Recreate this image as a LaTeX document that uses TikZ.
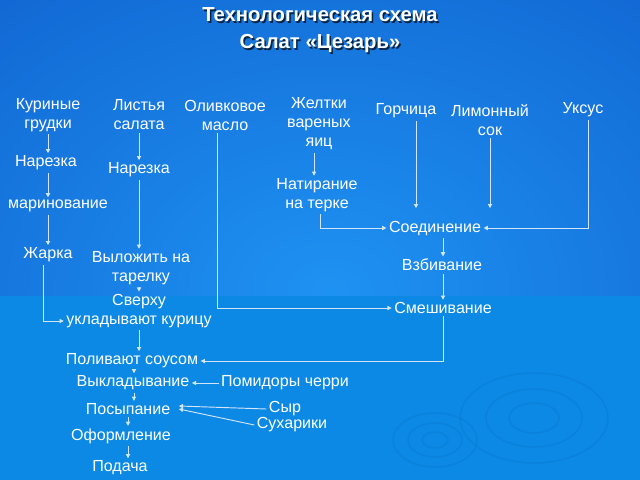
\documentclass[tikz,border=0pt]{standalone}
\usepackage{fontspec}
\setmainfont{Liberation Sans}
\usetikzlibrary{arrows.meta,calc}
\definecolor{topbase}{HTML}{0A4CC0}
\definecolor{topglow}{HTML}{1E92F2}
\definecolor{botc}{HTML}{0B89E4}
\definecolor{lncol}{HTML}{D2E6FA}
\definecolor{ripple}{HTML}{0A7AD4}
\tikzset{
  txt/.style={text=white, font=\fontsize{13.7}{16.2}\selectfont, inner sep=2pt, align=center},
  ttl/.style={font=\fontsize{17.3}{20}\selectfont\bfseries, inner sep=0pt},
  arr/.style={draw=lncol, line width=0.8pt, -{Triangle[length=3.6pt,width=3.6pt]}},
  rip/.style={draw=ripple, line width=1.3pt, opacity=0.5}
}
\begin{document}
\begin{tikzpicture}[x=0.03cm,y=-0.03cm]
\useasboundingbox (0,0) rectangle (640,480);
% background
\fill[topbase] (0,0) rectangle (640,296);
\begin{scope}
  \clip (0,0) rectangle (640,296);
  \shade[inner color=topglow, outer color=topbase] (330,290) ellipse [x radius=860, y radius=640];
\end{scope}
\fill[botc] (0,296) rectangle (640,480);
% ripples
\draw[rip] (435,440) ellipse [x radius=42, y radius=27];
\draw[rip] (435,440) ellipse [x radius=27, y radius=17];
\draw[rip] (435,440) ellipse [x radius=13, y radius=8];
\draw[rip] (534,418) ellipse [x radius=74, y radius=45];
\draw[rip] (534,418) ellipse [x radius=48, y radius=29];
\draw[rip] (534,418) ellipse [x radius=25, y radius=15];
% title
\node[ttl, text=black, opacity=0.7] at (321.5,16.5) {Технологическая схема};
\node[ttl, text=white] (t1) at (320,15) {Технологическая схема};
\node[ttl, text=black, opacity=0.7] at (321.5,45.5) {Салат «Цезарь»};
\node[ttl, text=white] (t2) at (320,44) {Салат «Цезарь»};
% nodes
\node[txt] (kur) at (48,115) {Куриные\\грудки};
\node[txt] (listya) at (139,115) {Листья\\салата};
\node[txt] (oliv) at (225,115) {Оливковое\\масло};
\node[txt] (zhel) at (319,124) {Желтки\\вареных\\яиц};
\node[txt] (gorch) at (406,111) {Горчица};
\node[txt] (limon) at (490,120) {Лимонный\\сок};
\node[txt] (uksus) at (583,110) {Уксус};
\node[txt] (nar1) at (46,163) {Нарезка};
\node[txt] (nar2) at (139,170) {Нарезка};
\node[txt] (marin) at (58,206) {маринование};
\node[txt] (natir) at (317,195) {Натирание\\на терке};
\node[txt] (soed) at (435,228) {Соединение};
\node[txt] (zharka) at (48,255) {Жарка};
\node[txt] (vylozh) at (141,268) {Выложить на\\тарелку};
\node[txt] (vzbiv) at (442,265) {Взбивание};
\node[txt] (sverhu) at (139,311) {Сверху\\укладывают курицу};
\node[txt] (smesh) at (443,308) {Смешивание};
\node[txt] (poliv) at (132,361) {Поливают соусом};
\node[txt] (vykl) at (133,383) {Выкладывание};
\node[txt] (pomid) at (285,383) {Помидоры черри};
\node[txt] (posyp) at (128,409) {Посыпание};
\node[txt] (syr) at (285,409) {Сыр};
\node[txt] (suhar) at (292,425) {Сухарики};
\node[txt] (oform) at (121,436) {Оформление};
\node[txt] (podacha) at (120,468) {Подача};
% helper coordinates
\coordinate (zh0) at ($(zharka.south)+(-5,0)$);
\coordinate (sv2) at ($(sverhu.west)+(0,10)$);
\coordinate (ol0) at ($(oliv.south)+(-8,0)$);
\coordinate (ye0) at ($(zhel.south)+(-5,0)$);
\coordinate (na0) at ($(natir.south)+(3,0)$);
\coordinate (go0) at ($(gorch.south)+(10,0)$);
\coordinate (soT) at ($(soed.north)+(0,-10)$);
\coordinate (uk0) at ($(uksus.south)+(5,0)$);
\coordinate (so0) at ($(soed.south)+(8,0)$);
\coordinate (po0) at ($(poliv.south)+(2,0)$);
\coordinate (vy0) at ($(vykl.south)+(1,0)$);
\coordinate (ps1) at ($(posyp.east)+(6,-3)$);
\coordinate (ps2) at ($(posyp.east)+(6,0)$);
\coordinate (of0) at ($(oform.south)+(7,0)$);
% connectors: chicken column
\draw[arr] (kur.south) -- (kur.south |- nar1.north);
\draw[arr] (kur.south |- nar1.south) -- (kur.south |- marin.north);
\draw[arr] (kur.south |- marin.south) -- (kur.south |- zharka.north);
\draw[arr] (zh0) |- (sv2);
% lettuce column
\draw[arr] (listya.south) -- (listya.south |- nar2.north);
\draw[arr] (nar2.south) -- (nar2.south |- vylozh.north);
\draw[arr] (nar2.south |- vylozh.south) -- (nar2.south |- sverhu.north);
\draw[arr] (sverhu.south) -- (sverhu.south |- poliv.north);
% olive oil
\draw[arr] (ol0) |- (smesh.west);
% yolks
\draw[arr] (ye0) -- (ye0 |- natir.north);
\draw[arr] (na0) |- (soed.west);
% dressing
\draw[arr] (go0) -- (go0 |- soT);
\draw[arr] (limon.south) -- (limon.south |- soT);
\draw[arr] (uk0) |- (soed.east);
\draw[arr] (so0) -- (so0 |- vzbiv.north);
\draw[arr] (so0 |- vzbiv.south) -- (so0 |- smesh.north);
\draw[arr] (so0 |- smesh.south) |- (poliv.east);
% final steps
\draw[arr] (po0) -- (po0 |- vykl.north);
\draw[arr] (pomid.west) -- (vykl.east);
\draw[arr] (vy0) -- (vy0 |- posyp.north);
\draw[arr] (syr.west) -- (ps1);
\draw[arr] (suhar.west) -- (ps2);
\draw[arr] (posyp.south) -- (posyp.south |- oform.north);
\draw[arr] (of0) -- (of0 |- podacha.north);
\end{tikzpicture}
\end{document}
